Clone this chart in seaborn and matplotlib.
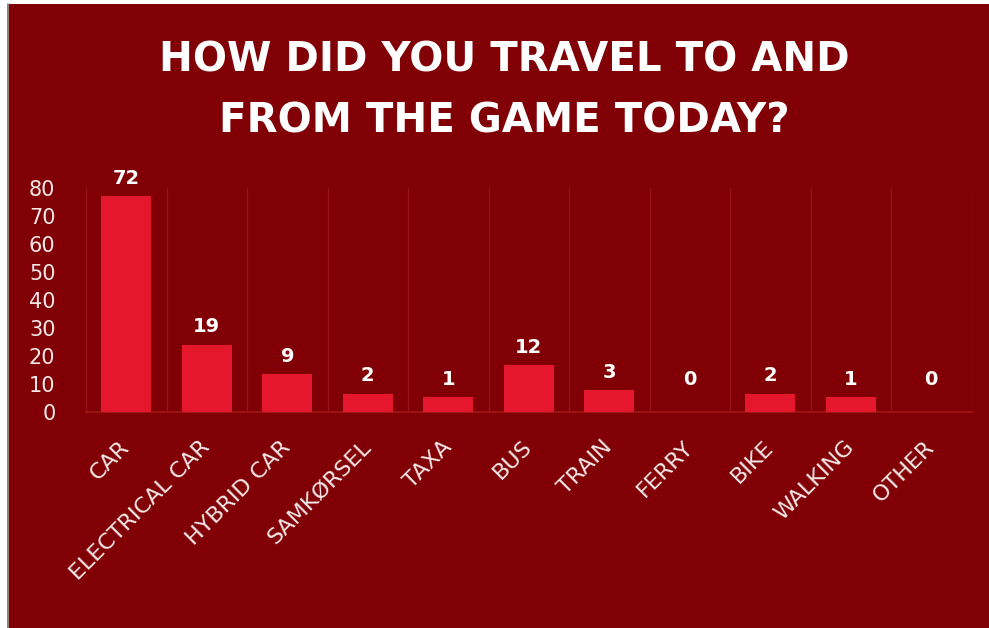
import matplotlib
matplotlib.use("Agg")
import matplotlib.pyplot as plt
import seaborn as sns
from matplotlib.patches import Rectangle
from matplotlib.lines import Line2D

categories = ["CAR", "ELECTRICAL CAR", "HYBRID CAR", "SAMKØRSEL", "TAXA", "BUS",
              "TRAIN", "FERRY", "BIKE", "WALKING", "OTHER"]
counts = [72, 19, 9, 2, 1, 12, 3, 0, 2, 1, 0]
# bar heights as drawn in the original infographic
bar_heights = [77, 24, 13.5, 6.5, 5.3, 16.7, 7.8, 0, 6.5, 5.3, 0]
y_ticks = [0, 10, 20, 30, 40, 50, 60, 70, 80]
title = "HOW DID YOU TRAVEL TO AND\nFROM THE GAME TODAY?"

BG = "#800005"
BAR = "#e5172c"
GRID = "#9a1414"
TXT = "#f4e8e8"

sns.set_theme(style="white")
plt.rcParams["font.family"] = ["DejaVu Sans"]

W, H = 989, 628
fig = plt.figure(figsize=(W / 100, H / 100), dpi=100)
fig.patch.set_facecolor(BG)
# white margins of the screenshot
fig.patches.append(Rectangle((0, 0), 7 / W, 1, transform=fig.transFigure,
                             facecolor="white", edgecolor="none", zorder=0))
fig.patches.append(Rectangle((0, 1 - 4 / H), 1, 4 / H, transform=fig.transFigure,
                             facecolor="white", edgecolor="none", zorder=0))
fig.lines.append(Line2D([7.5 / W, 7.5 / W], [0, 1 - 4 / H], transform=fig.transFigure,
                        color="#999999", lw=1.2))

ax = fig.add_axes([86 / W, 216 / H, (971.5 - 86) / W, (440 - 216) / H])
ax.set_facecolor(BG)

sns.barplot(x=categories, y=bar_heights, color=BAR, width=0.62, ax=ax,
            saturation=1, linewidth=0, zorder=3)

ax.set_ylim(0, 80)
ax.set_xlim(-0.5, len(categories) - 0.5)
ax.set_yticks(y_ticks)
ax.set_yticklabels([str(t) for t in y_ticks], fontsize=15, color=TXT)
ax.tick_params(axis="y", length=0, pad=22)
ax.tick_params(axis="x", length=0, pad=23)
ax.set_xticks(range(len(categories)))
ax.set_xticklabels(categories, rotation=45, ha="right", va="center",
                   rotation_mode="anchor", fontsize=16, color=TXT)
ax.set_xticks([i - 0.5 for i in range(len(categories) + 1)], minor=True)
ax.tick_params(axis="x", which="minor", length=0)
ax.grid(False)
ax.grid(which="minor", axis="x", color=GRID, lw=1, zorder=1)
for s in ["top", "left", "right"]:
    ax.spines[s].set_visible(False)
ax.spines["bottom"].set_color(GRID)
ax.spines["bottom"].set_linewidth(1.5)
ax.set_xlabel("")
ax.set_ylabel("")

for p, c in zip(ax.patches, counts):
    x = p.get_x() + p.get_width() / 2
    h = p.get_height()
    y = h if h > 0 else 5.3
    ax.annotate(str(c), (x, y), xytext=(0, 6), textcoords="offset points",
                ha="center", va="bottom", color="white", fontsize=14,
                fontweight="bold", annotation_clip=False, zorder=5)

fig.text(504 / W, 1 - 91 / H, title, ha="center", va="center", color="white",
         fontsize=29, fontweight="bold", linespacing=1.68)

fig.savefig("out.png", dpi=100, facecolor=fig.get_facecolor())
